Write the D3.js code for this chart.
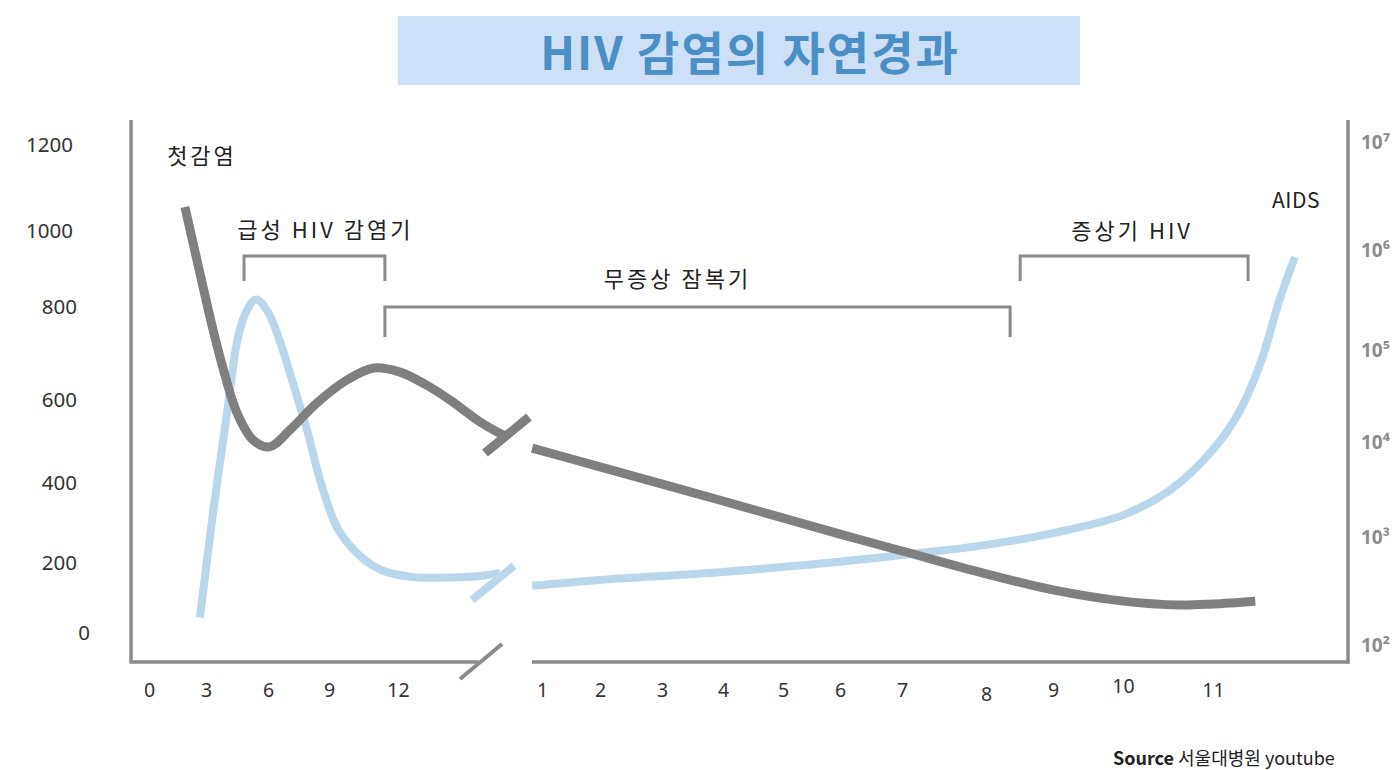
<!DOCTYPE html>
<html><head><meta charset="utf-8">
<script src="https://cdn.jsdelivr.net/npm/d3@7"></script>
<style>
body{margin:0;background:#fff;}
svg{display:block;font-family:"Noto Sans CJK KR","Noto Sans",sans-serif;}
</style>
</head><body><svg id="c" width="1395" height="770"></svg>
<script>
// ---------- data ----------
const weekTicks = [0, 3, 6, 9, 12];
const yearTicks = [1, 2, 3, 4, 5, 6, 7, 8, 9, 10, 11];
const cd4Ticks = [0, 200, 400, 600, 800, 1000, 1200];
const vlTicks = [1e2, 1e3, 1e4, 1e5, 1e6, 1e7];

// CD4 count (left axis), acute phase in weeks
const cd4AcuteWeeks  = [1.89, 2.68, 3.34, 3.82, 4.5, 5.27, 6.07, 7.08, 8.41, 9.78, 10.95, 12.09, 13.17, 14.26, 15.57, 16.65];
const cd4AcuteValues = [1056, 889, 751, 669, 569, 504, 487, 528, 593, 643, 669, 660, 634, 600, 547, 513];
// viral load (right axis, log), acute phase in weeks
const vlAcuteWeeks  = [2.68, 3.34, 4.02, 4.55, 4.98, 5.42, 5.95, 6.44, 6.93, 7.43, 7.92, 8.56, 9.35, 10.22, 11.22, 12.65, 13.83, 15.57, 16.43];
const vlAcuteValues = [180, 1800, 21000, 135000, 250000, 320000, 250000, 148000, 72000, 31000, 13500, 4000, 1260, 710, 500, 425, 420, 435, 465];
// chronic phase in years
const cd4ChronicYears  = [0.83, 2, 4, 6, 7, 8, 9, 10, 10.63, 11, 11.47];
const cd4ChronicValues = [484, 439, 355, 272, 230, 169, 123, 91, 80, 83, 91];
const vlChronicYears  = [0.83, 2, 4, 6, 7, 8, 9, 10, 10.52, 11, 11.3, 11.54, 11.74, 11.91];
const vlChronicValues = [353, 400, 475, 590, 680, 845, 1100, 1700, 3100, 8300, 22000, 78000, 320000, 850000];

// phase annotations
const phaseLabels = ["급성 HIV 감염기", "무증상 잠복기", "증상기 HIV"];
const titleText = "HIV 감염의 자연경과";

// ---------- scales ----------
const svg = d3.select("#c");
const xWeek = d3.scaleLinear().domain(weekTicks).range([149, 206, 268, 329, 398]);
const xYear = d3.scaleLinear().domain(yearTicks).range([542, 600, 662, 723, 783, 840, 902, 986, 1053, 1123, 1213]);
const yL = d3.scaleLinear().domain(cd4Ticks).range([633, 563, 483, 400, 307, 231, 145]);
const yR = d3.scaleLog().domain(vlTicks).range([645, 537, 442, 350, 250, 142]);

const axisCol = "#8a8a8a", grayCol = "#7f7f7f", blueCol = "#bad6ea";

// ---------- title ----------
svg.append("rect").attr("x", 398).attr("y", 16).attr("width", 682).attr("height", 69).attr("fill", "#cde0f7");
svg.append("text").attr("x", 750).attr("y", 70).attr("text-anchor", "middle")
  .attr("font-size", 46).attr("font-weight", 700).attr("letter-spacing", 2)
  .attr("fill", "#4a8fc6").text(titleText);

// ---------- axes lines ----------
const axG = svg.append("g").attr("stroke", axisCol).attr("stroke-width", 3.5).attr("fill", "none");
axG.append("line").attr("x1", 131).attr("y1", 120).attr("x2", 131).attr("y2", 662);
axG.append("line").attr("x1", 129.5).attr("y1", 662).attr("x2", 478).attr("y2", 662);
axG.append("line").attr("x1", 532).attr("y1", 662).attr("x2", 1349.5).attr("y2", 662);
axG.append("line").attr("x1", 1348).attr("y1", 120).attr("x2", 1348).attr("y2", 663.5);
axG.append("line").attr("x1", 460).attr("y1", 679).attr("x2", 502).attr("y2", 644).attr("stroke-width", 4);

// left axis labels
const leftTweak = {0: 13, 1000: -4, 1200: -4};
const gL = svg.append("g").attr("transform", "translate(77,0)")
  .call(d3.axisLeft(yL).tickValues(cd4Ticks).tickSize(0).tickPadding(0).tickFormat(d3.format("d")));
gL.select(".domain").remove();
gL.selectAll("text").attr("font-size", 20.5).attr("fill", "#333")
  .attr("font-family", "'Noto Sans','Open Sans',sans-serif")
  .attr("x", d => leftTweak[d] || 0);

// right axis labels
const sup = {2: "²", 3: "³", 4: "⁴", 5: "⁵", 6: "⁶", 7: "⁷"};
const gR = svg.append("g").attr("transform", "translate(1361,0)")
  .call(d3.axisRight(yR).tickValues(vlTicks).tickSize(0).tickPadding(0)
    .tickFormat(d => "10" + sup[Math.round(Math.log10(d))]));
gR.select(".domain").remove();
gR.selectAll("text").attr("font-size", 19).attr("font-weight", 700).attr("fill", "#8c8c8c")
  .attr("font-family", "'Open Sans','Noto Sans',sans-serif");

// bottom axis labels
const labelTweak = {8: 4, 10: -4};
const gW = svg.append("g").attr("transform", "translate(0,690)")
  .call(d3.axisBottom(xWeek).tickValues(weekTicks).tickSize(0).tickPadding(0));
const gY = svg.append("g").attr("transform", "translate(0,690)")
  .call(d3.axisBottom(xYear).tickValues(yearTicks).tickSize(0).tickPadding(0));
[gW, gY].forEach(g => {
  g.select(".domain").remove();
  g.selectAll("text").attr("font-size", 19.5).attr("fill", "#333").attr("dy", "0.35em")
    .attr("font-family", "'Noto Sans','Open Sans',sans-serif");
});
gY.selectAll("text").attr("y", d => labelTweak[d] || 0);

// ---------- curves ----------
const curve = d3.curveCatmullRom.alpha(0.5);
const lineW = d3.line().x(d => xWeek(d[0])).curve(curve);
const lineY = d3.line().x(d => xYear(d[0])).curve(curve);
const zip = (a, b) => a.map((v, i) => [v, b[i]]);

const cd4A = zip(cd4AcuteWeeks, cd4AcuteValues);
const cd4C = zip(cd4ChronicYears, cd4ChronicValues);
const vlA = zip(vlAcuteWeeks, vlAcuteValues);
const vlC = zip(vlChronicYears, vlChronicValues);

function drawLine(data, gen, yScale, col, w) {
  svg.append("path").datum(data).attr("fill", "none").attr("stroke", col).attr("stroke-width", w)
    .attr("d", gen.y(d => yScale(d[1]))(data));
}
drawLine(vlA, lineW, yR, blueCol, 8);
drawLine(vlC, lineY, yR, blueCol, 8);
drawLine(cd4A, lineW, yL, grayCol, 9);
drawLine(cd4C, lineY, yL, grayCol, 9);

// break marks at ends of acute segments
const gEnd = cd4A[cd4A.length - 1], bEnd = vlA[vlA.length - 1];
const gx = xWeek(gEnd[0]), gy = yL(gEnd[1]);
const bx = xWeek(bEnd[0]), by = yR(bEnd[1]);
svg.append("line").attr("x1", gx - 20).attr("y1", gy + 17).attr("x2", gx + 24).attr("y2", gy - 19)
  .attr("stroke", grayCol).attr("stroke-width", 9);
svg.append("line").attr("x1", bx - 28).attr("y1", by + 27).attr("x2", bx + 14).attr("y2", by - 7)
  .attr("stroke", blueCol).attr("stroke-width", 8);

// ---------- phase brackets ----------
const brG = svg.append("g").attr("stroke", axisCol).attr("stroke-width", 3).attr("fill", "none");
function bracket(x1, x2, top, bottom) {
  brG.append("path").attr("d", `M${x1},${bottom}V${top}H${x2}V${bottom}`);
}
const b1 = [xWeek(4.84), xWeek(11.43)];
const b2 = [xWeek(11.43), xYear(8.36)];
const b3 = [xYear(8.51), xYear(11.39)];
bracket(b1[0], b1[1], 256, 281);
bracket(b2[0], b2[1], 307, 337);
bracket(b3[0], b3[1], 256, 281);

const txt = (x, y, s, size, anchor) => svg.append("text").attr("x", x).attr("y", y)
  .attr("text-anchor", anchor || "middle").attr("font-size", size).attr("letter-spacing", 3)
  .attr("fill", "#222").text(s);
txt((b1[0] + b1[1]) / 2 + 11, 238, phaseLabels[0], 22);
txt((b2[0] + b2[1]) / 2 - 20, 287, phaseLabels[1], 22);
txt((b3[0] + b3[1]) / 2 - 2, 239, phaseLabels[2], 22);
txt(202, 164, "첫감염", 22);
txt(1296, 208, "AIDS", 21).attr("letter-spacing", 0.5);

// source
const src = svg.append("text").attr("x", 1113).attr("y", 765).attr("font-size", 18).attr("fill", "#222");
src.append("tspan").attr("font-weight", 700).text("Source");
src.append("tspan").text(" 서울대병원 youtube");
</script>
</body></html>
